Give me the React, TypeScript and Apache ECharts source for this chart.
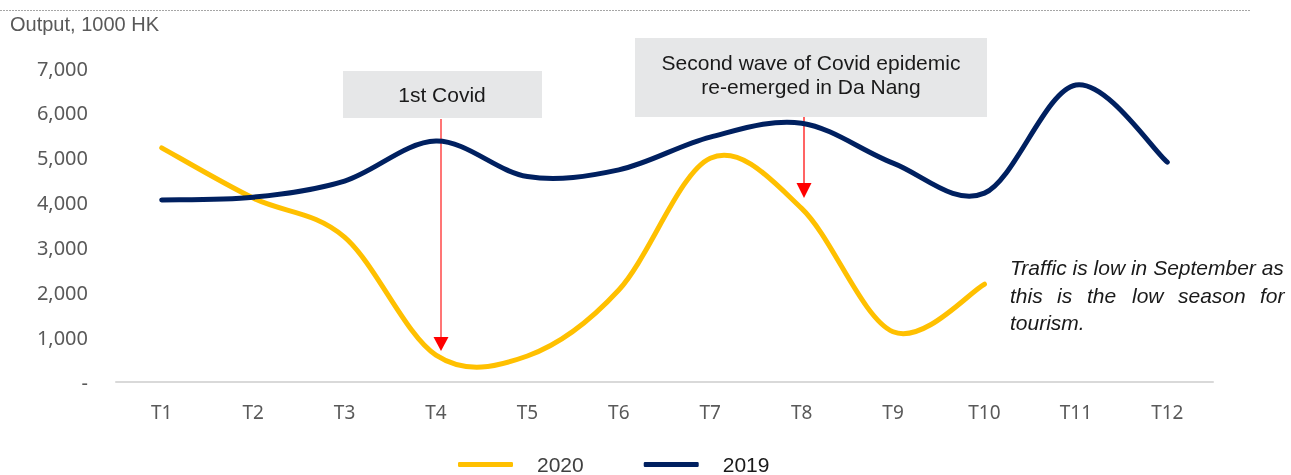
import React, { useEffect, useRef } from "react";
import * as echarts from "echarts";

const categories = ["T1", "T2", "T3", "T4", "T5", "T6", "T7", "T8", "T9", "T10", "T11", "T12"];
const values2020: (number | null)[] = [5220, 4100, 3230, 600, 580, 2050, 4990, 3870, 1120, 2180, null, null];
const values2019: (number | null)[] = [4060, 4120, 4480, 5370, 4580, 4730, 5460, 5770, 4880, 4210, 6620, 4900];
const yTicks = [0, 1000, 2000, 3000, 4000, 5000, 6000, 7000];

const YELLOW = "#FFC000";
const NAVY = "#002060";

// Catmull-Rom style smooth curve through the points (similar to spreadsheet smoothing)
function smoothPath(pts: number[][]): string {
  if (pts.length === 0) return "";
  let d = `M${pts[0][0]},${pts[0][1]}`;
  for (let i = 0; i < pts.length - 1; i++) {
    const p0 = pts[i - 1] || pts[i];
    const p1 = pts[i];
    const p2 = pts[i + 1];
    const p3 = pts[i + 2] || pts[i + 1];
    const c1x = p1[0] + (p2[0] - p0[0]) / 6;
    const c1y = p1[1] + (p2[1] - p0[1]) / 6;
    const c2x = p2[0] - (p3[0] - p1[0]) / 6;
    const c2y = p2[1] - (p3[1] - p1[1]) / 6;
    d += ` C${c1x},${c1y} ${c2x},${c2y} ${p2[0]},${p2[1]}`;
  }
  return d;
}

function curveSeries(name: string, values: (number | null)[], color: string, z: number) {
  const data = values
    .map((v, i) => (v === null ? null : [i, v]))
    .filter((d) => d !== null) as number[][];
  return {
    name,
    type: "custom",
    data,
    encode: { x: 0, y: 1 },
    itemStyle: { color },
    z,
    silent: true,
    renderItem: (params: any, api: any) => {
      if (params.dataIndex !== 0) return null;
      const pts = data.map((p) => api.coord([p[0], p[1]]));
      return {
        type: "path",
        shape: { pathData: smoothPath(pts) },
        style: { fill: "none", stroke: color, lineWidth: 5, lineCap: "round", lineJoin: "round" },
      };
    },
  };
}

export default function App() {
  const ref = useRef<HTMLDivElement>(null);
  useEffect(() => {
    if (!ref.current) return;
    const chart = echarts.init(ref.current, null, { renderer: "svg" });
    const labelFont = "'Noto Sans', sans-serif";
    const arial = "'Liberation Sans', Arial, sans-serif";
    const words2 = [
      ["this", 1010],
      ["is", 1057],
      ["the", 1087],
      ["low", 1132],
      ["season", 1178],
      ["for", 1260],
    ];
    const italicStyle = { fontSize: 21, fontStyle: "italic", fontFamily: arial, fill: "#1a1a1a" };
    chart.setOption({
      animation: false,
      grid: { left: 116, right: 78, top: 68, bottom: 93 },
      xAxis: {
        type: "category",
        data: categories,
        boundaryGap: true,
        axisLine: { lineStyle: { color: "#d9d9d9", width: 2 } },
        axisTick: { show: false },
        axisLabel: { color: "#595959", fontSize: 19, fontFamily: labelFont, margin: 20 },
      },
      yAxis: {
        type: "value",
        min: yTicks[0],
        max: yTicks[yTicks.length - 1],
        interval: 1000,
        splitLine: { show: false },
        axisLine: { show: false },
        axisTick: { show: false },
        axisLabel: {
          color: "#595959",
          fontSize: 20,
          fontFamily: labelFont,
          margin: 28,
          formatter: (v: number) => (v === 0 ? "-" : v.toLocaleString("en-US")),
        },
      },
      legend: {
        left: 458,
        top: 454,
        padding: 0,
        itemWidth: 55,
        itemHeight: 5,
        itemGap: 60,
        textStyle: { fontSize: 21, fontFamily: arial, color: "#404040", padding: [0, 0, 0, 19] },
        data: [
          { name: "2020", icon: "roundRect", itemStyle: { color: YELLOW }, textStyle: { color: "#404040" } },
          { name: "2019", icon: "roundRect", itemStyle: { color: NAVY }, textStyle: { color: "#1a1a1a" } },
        ],
      },
      series: [curveSeries("2020", values2020, YELLOW, 2), curveSeries("2019", values2019, NAVY, 3)],
      graphic: [
        {
          type: "line",
          shape: { x1: 0, y1: 10.5, x2: 1250, y2: 10.5 },
          style: { stroke: "#a6a6a6", lineWidth: 1, lineDash: [2, 1] },
        },
        {
          type: "text",
          x: 10,
          y: 24,
          style: { text: "Output, 1000 HK", fontSize: 20, fontFamily: arial, fill: "#595959", verticalAlign: "middle" },
        },
        { type: "rect", shape: { x: 343, y: 71, width: 199, height: 47 }, style: { fill: "#e6e7e8" } },
        {
          type: "text",
          x: 442,
          y: 94,
          style: { text: "1st Covid", fontSize: 21, fontFamily: arial, fill: "#1a1a1a", align: "center", verticalAlign: "middle" },
        },
        { type: "rect", shape: { x: 635, y: 38, width: 352, height: 79 }, style: { fill: "#e6e7e8" } },
        {
          type: "text",
          x: 811,
          y: 74,
          style: {
            text: "Second wave of Covid epidemic\nre-emerged in Da Nang",
            fontSize: 21,
            lineHeight: 24,
            fontFamily: arial,
            fill: "#1a1a1a",
            align: "center",
            verticalAlign: "middle",
          },
        },
        { type: "line", shape: { x1: 441, y1: 119, x2: 441, y2: 339 }, style: { stroke: "#ff4747", lineWidth: 1.5 } },
        { type: "polygon", shape: { points: [[433.5, 337], [448.5, 337], [441, 351]] }, style: { fill: "#ff0000" } },
        { type: "line", shape: { x1: 804, y1: 117, x2: 804, y2: 185 }, style: { stroke: "#ff3030", lineWidth: 1.5 } },
        { type: "polygon", shape: { points: [[796.5, 183], [811.5, 183], [804, 198]] }, style: { fill: "#ff0000" } },
        {
          type: "text",
          x: 1010,
          y: 267,
          style: { ...italicStyle, text: "Traffic is low in September as", verticalAlign: "middle" },
        },
        ...words2.map(([w, x]) => ({
          type: "text",
          x: x as number,
          y: 295,
          style: { ...italicStyle, text: w as string, verticalAlign: "middle" },
        })),
        {
          type: "text",
          x: 1010,
          y: 322,
          style: { ...italicStyle, text: "tourism.", verticalAlign: "middle" },
        },
      ],
    });
    return () => chart.dispose();
  }, []);
  return <div ref={ref} style={{ position: "fixed", left: 0, top: 0, width: 1291, height: 475 }} />;
}
